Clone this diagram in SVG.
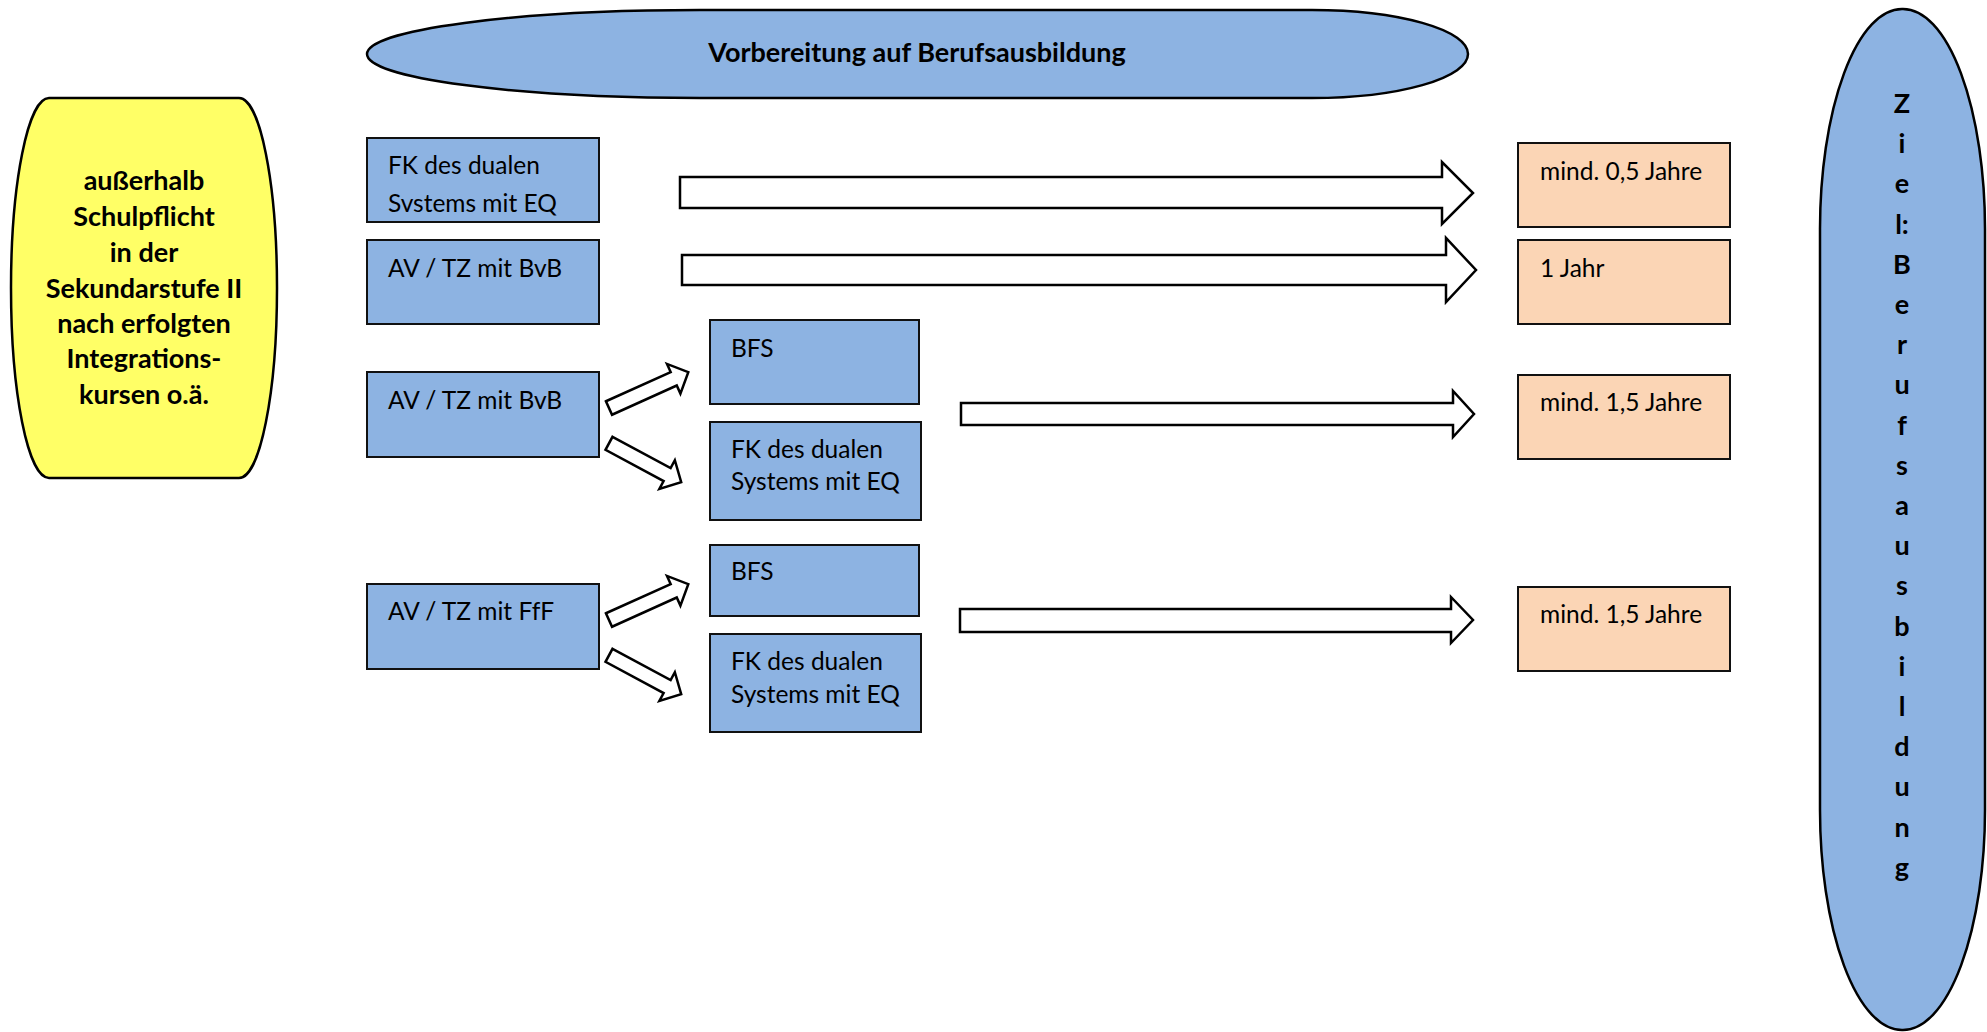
<svg xmlns="http://www.w3.org/2000/svg" width="1987" height="1032" viewBox="0 0 1987 1032">
<style>
.bl{fill:#8DB3E2;stroke:#111;stroke-width:2}
.pe{fill:#FBD5B5;stroke:#111;stroke-width:2}
.t{font-family:Lato,"Liberation Sans",sans-serif;font-size:24.5px;fill:#000}
.b{font-family:Lato,"Liberation Sans",sans-serif;font-size:27px;font-weight:bold;fill:#000;text-anchor:middle}
.ar{fill:#fff;stroke:#000;stroke-width:2.5;stroke-linejoin:miter}
</style>
<defs>
<polygon id="sa" points="0,-7.4 71,-7.4 71,-16.3 87,0 71,16.3 71,7.4 0,7.4"/>
<polygon id="sb" points="0,-7.4 66,-7.4 66,-16.3 82,0 66,16.3 66,7.4 0,7.4"/>
</defs>
<rect width="1987" height="1032" fill="#fff"/>

<g id="n-vorbereitung">
<path d="M700,10 L1312,10 A156,44 0 0 1 1312,98 L700,98 A333,44 0 0 1 700,10 Z" fill="#8DB3E2" stroke="#000" stroke-width="2.5"/>
<text class="b" x="917" y="62" font-size="28.5">Vorbereitung auf Berufsausbildung</text>
</g>

<g id="n-ausserhalb">
<rect x="11" y="98" width="266" height="380" rx="38" ry="190" fill="#FFFF66" stroke="#000" stroke-width="2.5"/>
<text class="b" x="144" y="190">außerhalb</text>
<text class="b" x="144" y="226">Schulpflicht</text>
<text class="b" x="144" y="262">in der</text>
<text class="b" x="144" y="298">Sekundarstufe II</text>
<text class="b" x="144" y="333">nach erfolgten</text>
<text class="b" x="144" y="368">Integrations-</text>
<text class="b" x="144" y="404">kursen o.ä.</text>
</g>

<g id="n-ziel">
<rect x="1820" y="9" width="165" height="1021" rx="82" ry="220" fill="#8DB3E2" stroke="#000" stroke-width="2.5"/>
<text class="b" x="1902" y="113">Z</text>
<text class="b" x="1902" y="153.2">i</text>
<text class="b" x="1902" y="193.4">e</text>
<text class="b" x="1902" y="233.6">l:</text>
<text class="b" x="1902" y="273.8">B</text>
<text class="b" x="1902" y="314">e</text>
<text class="b" x="1902" y="354.2">r</text>
<text class="b" x="1902" y="394.4">u</text>
<text class="b" x="1902" y="434.6">f</text>
<text class="b" x="1902" y="474.8">s</text>
<text class="b" x="1902" y="515">a</text>
<text class="b" x="1902" y="555.2">u</text>
<text class="b" x="1902" y="595.4">s</text>
<text class="b" x="1902" y="635.6">b</text>
<text class="b" x="1902" y="675.8">i</text>
<text class="b" x="1902" y="716">l</text>
<text class="b" x="1902" y="756.2">d</text>
<text class="b" x="1902" y="796.4">u</text>
<text class="b" x="1902" y="836.6">n</text>
<text class="b" x="1902" y="876.8">g</text>
</g>

<g id="n-fk1">
<rect class="bl" x="367" y="138" width="232" height="84"/>
<text class="t" x="388" y="174">FK des dualen</text>
<text class="t" x="388" y="212">Svstems mit EQ</text>
</g>
<g id="n-av1">
<rect class="bl" x="367" y="240" width="232" height="84"/>
<text class="t" x="388" y="277">AV / TZ mit BvB</text>
</g>
<g id="n-av2">
<rect class="bl" x="367" y="372" width="232" height="85"/>
<text class="t" x="388" y="409">AV / TZ mit BvB</text>
</g>
<g id="n-av3">
<rect class="bl" x="367" y="584" width="232" height="85"/>
<text class="t" x="388" y="620">AV / TZ mit FfF</text>
</g>
<g id="n-bfs1">
<rect class="bl" x="710" y="320" width="209" height="84"/>
<text class="t" x="731" y="357">BFS</text>
</g>
<g id="n-fk2">
<rect class="bl" x="710" y="422" width="211" height="98"/>
<text class="t" x="731" y="458">FK des dualen</text>
<text class="t" x="731" y="490">Systems mit EQ</text>
</g>
<g id="n-bfs2">
<rect class="bl" x="710" y="545" width="209" height="71"/>
<text class="t" x="731" y="580">BFS</text>
</g>
<g id="n-fk3">
<rect class="bl" x="710" y="634" width="211" height="98"/>
<text class="t" x="731" y="670">FK des dualen</text>
<text class="t" x="731" y="703">Systems mit EQ</text>
</g>

<g id="n-d1">
<rect class="pe" x="1518" y="143" width="212" height="84"/>
<text class="t" x="1540" y="180">mind. 0,5 Jahre</text>
</g>
<g id="n-d2">
<rect class="pe" x="1518" y="240" width="212" height="84"/>
<text class="t" x="1540" y="277">1 Jahr</text>
</g>
<g id="n-d3">
<rect class="pe" x="1518" y="375" width="212" height="84"/>
<text class="t" x="1540" y="411">mind. 1,5 Jahre</text>
</g>
<g id="n-d4">
<rect class="pe" x="1518" y="587" width="212" height="84"/>
<text class="t" x="1540" y="623">mind. 1,5 Jahre</text>
</g>

<g id="connectors">
<polygon class="ar" points="680,177 1442,177 1442,162 1473,193 1442,224 1442,208 680,208"/>
<polygon class="ar" points="682,255 1446,255 1446,238 1476,270 1446,302 1446,285 682,285"/>
<polygon class="ar" points="961,403 1453,403 1453,391 1474,414 1453,437 1453,425 961,425"/>
<polygon class="ar" points="960,609 1451,609 1451,597 1473,620 1451,643 1451,632 960,632"/>
<use href="#sa" class="ar" transform="translate(609,408) rotate(-24.3)"/>
<use href="#sb" class="ar" transform="translate(609,443.3) rotate(28.3)"/>
<use href="#sa" class="ar" transform="translate(609,620) rotate(-24.3)"/>
<use href="#sb" class="ar" transform="translate(609,655.3) rotate(28.3)"/>
</g>
</svg>
